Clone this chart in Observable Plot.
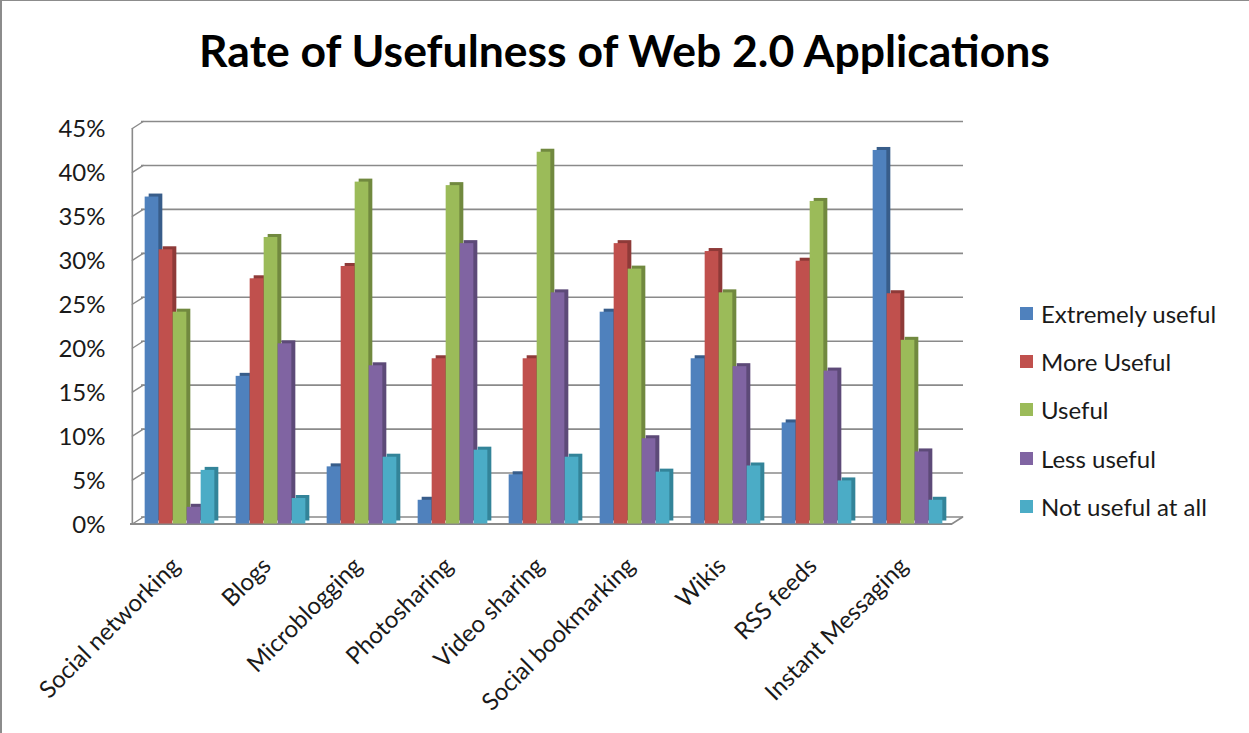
<!DOCTYPE html>
<html>
<head>
<meta charset="utf-8">
<script src="https://cdn.jsdelivr.net/npm/d3@7"></script>
<script src="https://cdn.jsdelivr.net/npm/@observablehq/plot@0.6"></script>
<style>
  body { margin: 0; background: #fff; }
  #chart { position: relative; width: 1249px; height: 733px; box-sizing: border-box;
    border-left: 2px solid #8c8c8c; border-top: 1px solid #8c8c8c; overflow: hidden;
    font-family: Lato, "Open Sans", sans-serif; background: #fff; }
  #title { position: absolute; left: -2px; width: 1249px; top: 26.7px; text-align: center;
    font-weight: 700; font-size: 44.5px; line-height: 44px; color: #000; white-space: nowrap; }
  #plot { position: absolute; left: -2px; top: 99px; }
  #legend { position: absolute; left: 1018px; top: 288px; }
  .row { display: flex; align-items: center; height: 48.3px; font-size: 24px; color: #1a1a1a; white-space: nowrap; }
  .sw { width: 13px; height: 13px; margin-right: 8px; }
</style>
</head>
<body>
<div id="chart">
  <div id="title">Rate of Usefulness of Web 2.0 Applications</div>
  <div id="plot"></div>
  <div id="legend"></div>
</div>
<script>
const categories = ["Social networking", "Blogs", "Microblogging", "Photosharing", "Video sharing",
  "Social bookmarking", "Wikis", "RSS feeds", "Instant Messaging"];
const series = ["Extremely useful", "More Useful", "Useful", "Less useful", "Not useful at all"];
const extremelyUseful = [37.2, 16.8, 6.5, 2.7, 5.6, 24.1, 18.8, 11.5, 42.5];
const moreUseful      = [31.2, 27.9, 29.3, 18.8, 18.8, 31.9, 31.0, 29.9, 26.2];
const useful          = [24.1, 32.6, 38.9, 38.5, 42.3, 29.0, 26.3, 36.7, 20.9];
const lessUseful      = [1.9, 20.5, 18.0, 31.9, 26.3, 9.7, 17.9, 17.4, 8.2];
const notUseful       = [6.1, 2.9, 7.6, 8.4, 7.6, 5.9, 6.6, 4.9, 2.7];
const yTicks = [0, 5, 10, 15, 20, 25, 30, 35, 40, 45];

const frontColors = ["#4F81BD", "#C0504D", "#9BBB59", "#8064A2", "#4BACC6"];
const sideColors  = ["#385D8A", "#8E3A38", "#71893F", "#5D4A78", "#338499"];

const valuesBySeries = [extremelyUseful, moreUseful, useful, lessUseful, notUseful];
const tables = series.map((s, i) => categories.map((c, j) => ({category: c, series: s, value: valuesBySeries[i][j]})));

const width = 1000, height = 633, marginLeft = 132, marginRight = 46, marginTop = 25, marginBottom = 212.5;
const step = (width - marginLeft - marginRight) / categories.length;
const barW = 14;
const inset = (step - barW) / 2;
const gridColor = "#8a8a8a";

const marks = [];
// back wall gridlines
marks.push(Plot.ruleY(yTicks, {y: d => d, dx: 9, dy: -4, stroke: gridColor, strokeWidth: 1.6}));
// left wall connectors
marks.push(Plot.vector(yTicks, {x: () => categories[0], y: d => d, dx: -step / 2 - 2, dy: 3,
  length: 13, rotate: 57.5, anchor: "start", r: 0, stroke: gridColor, strokeWidth: 1.4}));
// front-left edge
marks.push(Plot.ruleX([categories[0]], {x: d => d, y1: 0, y2: 45, dx: -step / 2 - 2, dy: 3, stroke: gridColor, strokeWidth: 1.6}));
// floor front edge and right edge
marks.push(Plot.ruleY([0], {y: d => d, dx: -2, dy: 3, stroke: gridColor, strokeWidth: 1.8}));
marks.push(Plot.vector([0], {x: () => categories[categories.length - 1], y: d => d, dx: step / 2 - 2, dy: 3,
  length: 13, rotate: 57.5, anchor: "start", r: 0, stroke: gridColor, strokeWidth: 1.6}));
// bars with pseudo-3D side/top
tables.forEach((tbl, i) => {
  const off = (i - 2) * barW;
  marks.push(Plot.barY(tbl, {x: "category", y: "value", fill: sideColors[i], insetLeft: inset, insetRight: inset, dx: off + 4, dy: 0}));
  marks.push(Plot.barY(tbl, {x: "category", y: "value", fill: frontColors[i], insetLeft: inset, insetRight: inset, dx: off, dy: 3}));
});

const hasAxisMarks = typeof Plot.axisY === "function";
if (hasAxisMarks) {
  marks.push(Plot.axisY(yTicks, {tickSize: 0, tickPadding: 27, tickFormat: d => d + "%", fontSize: 24, dy: 4, fill: "#1a1a1a", label: null}));
  marks.push(Plot.axisX({tickSize: 0, tickPadding: 41, tickRotate: -45, fontSize: 24, dx: -4, fill: "#1a1a1a", label: null}));
}

const chart = Plot.plot({
  width, height, marginLeft, marginRight, marginTop, marginBottom,
  style: {fontFamily: "Lato, 'Open Sans', sans-serif", fontSize: "24px", color: "#1a1a1a", background: "transparent", overflow: "visible"},
  x: {domain: categories, padding: 0, label: null, tickSize: 0, tickPadding: 41, tickRotate: -45},
  y: {domain: [0, 45], ticks: yTicks, tickFormat: d => d + "%", tickSize: 0, tickPadding: 27, label: null},
  marks
});
document.getElementById("plot").appendChild(chart);

const legend = document.getElementById("legend");
series.forEach((s, i) => {
  const row = document.createElement("div");
  row.className = "row";
  const sw = document.createElement("div");
  sw.className = "sw";
  sw.style.background = frontColors[i];
  const t = document.createElement("span");
  t.textContent = s;
  row.appendChild(sw); row.appendChild(t);
  legend.appendChild(row);
});
</script>
</body>
</html>
